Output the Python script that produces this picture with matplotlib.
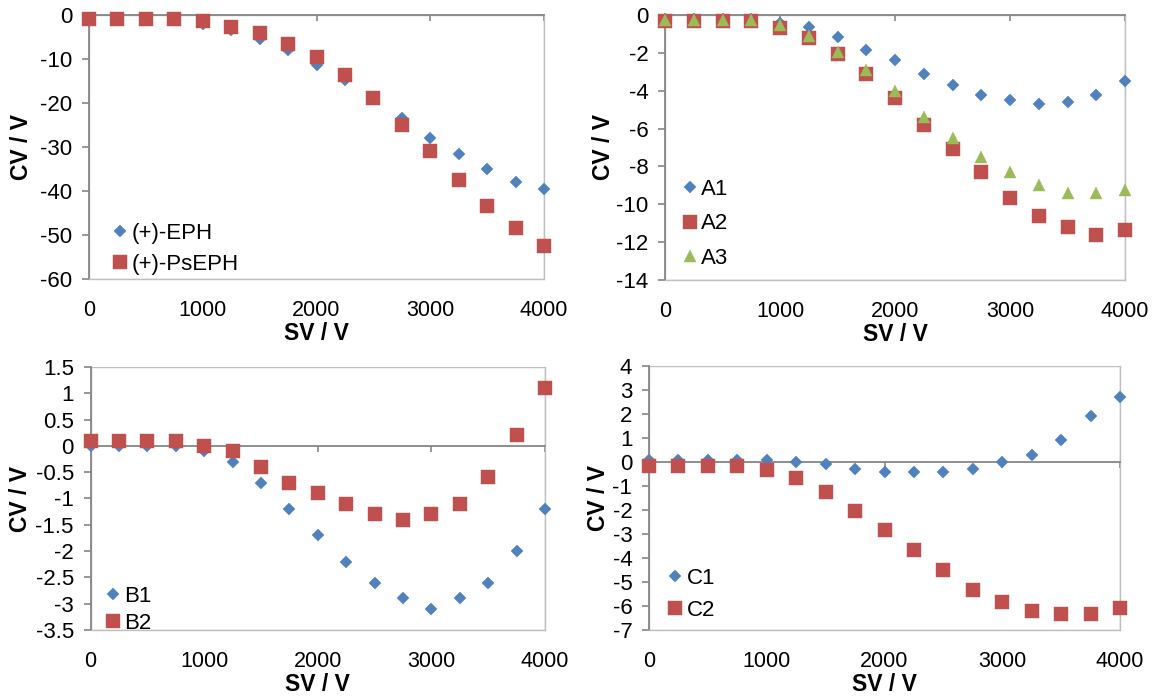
import matplotlib
matplotlib.use("Agg")
import matplotlib.pyplot as plt
from matplotlib.patches import Rectangle
from matplotlib.ticker import FuncFormatter, MultipleLocator

plt.rcParams["font.family"] = ["Liberation Sans", "DejaVu Sans"]
plt.rcParams["axes.unicode_minus"] = False

# Separation voltage (V)
sv = [0, 250, 500, 750, 1000, 1250, 1500, 1750, 2000,
      2250, 2500, 2750, 3000, 3250, 3500, 3750, 4000]

# Compensation voltage (V) per compound
eph = [-0.6, -0.6, -0.6, -0.6, -2.0, -3.3, -5.4, -7.9, -11.4,
       -14.8, -19.0, -23.5, -28.0, -31.6, -35.0, -38.0, -39.5]
pseph = [-0.9, -0.9, -0.9, -0.9, -1.4, -2.8, -4.2, -6.5, -9.6,
         -13.6, -18.8, -25.0, -31.0, -37.4, -43.3, -48.5, -52.6]

a1 = [-0.2, -0.2, -0.2, -0.2, -0.4, -0.65, -1.15, -1.85, -2.4,
      -3.1, -3.7, -4.2, -4.5, -4.7, -4.6, -4.2, -3.5]
a2 = [-0.3, -0.3, -0.3, -0.3, -0.7, -1.2, -2.05, -3.1, -4.4,
      -5.8, -7.1, -8.3, -9.65, -10.6, -11.2, -11.6, -11.35]
a3 = [-0.25, -0.25, -0.25, -0.25, -0.55, -1.1, -1.95, -2.9, -4.0,
      -5.4, -6.5, -7.5, -8.3, -9.0, -9.4, -9.4, -9.25]

b1 = [0.0, 0.0, 0.0, 0.0, -0.1, -0.3, -0.7, -1.2, -1.7,
      -2.2, -2.6, -2.9, -3.1, -2.9, -2.6, -2.0, -1.2]
b2 = [0.1, 0.1, 0.1, 0.1, 0.0, -0.1, -0.4, -0.7, -0.9,
      -1.1, -1.3, -1.4, -1.3, -1.1, -0.6, 0.2, 1.1]

c1 = [0.1, 0.1, 0.1, 0.1, 0.1, 0.0, -0.1, -0.3, -0.4,
      -0.4, -0.4, -0.3, 0.0, 0.3, 0.9, 1.9, 2.7]
c2 = [-0.15, -0.15, -0.15, -0.15, -0.35, -0.65, -1.25, -2.05, -2.85,
      -3.65, -4.5, -5.35, -5.85, -6.2, -6.35, -6.35, -6.1]

BLUE = "#4F81BD"
RED = "#C0504D"
GREEN = "#9BBB59"
AXIS = "#868686"
BORDER = "#BFBFBF"

styles = {
    "D": dict(marker="D", ms=6.4, color=BLUE),
    "s": dict(marker="s", ms=9.4, color=RED),
    "^": dict(marker="^", ms=9.0, color=GREEN),
}

W, H = 1156, 696
fig = plt.figure(figsize=(W / 100, H / 100), dpi=100)
fig.patch.set_facecolor("white")


def px_axes(left, top, right, bottom):
    return fig.add_axes([left / W, 1 - bottom / H, (right - left) / W, (bottom - top) / H])


panels = [
    dict(box=(89, 15, 544, 279), ylim=(-60, 0), step=10,
         series=[(eph, "D", "(+)-EPH"), (pseph, "s", "(+)-PsEPH")],
         ylab_x=-0.1235, leg=(0.0519, 0.2125), lspace=0.45),
    dict(box=(665, 15, 1125, 280), ylim=(-14, 0), step=2,
         series=[(a1, "D", "A1"), (a2, "s", "A2"), (a3, "^", "A3")],
         ylab_x=-0.1096, leg=(0.0374, 0.3815), lspace=0.61),
    dict(box=(90.5, 367, 545, 630), ylim=(-3.5, 1.5), step=0.5,
         series=[(b1, "D", "B1"), (b2, "s", "B2")],
         ylab_x=-0.129, leg=(0.0323, 0.1677), lspace=0.27),
    dict(box=(649, 366, 1120, 630), ylim=(-7, 4), step=1,
         series=[(c1, "D", "C1"), (c2, "s", "C2")],
         ylab_x=-0.0828, leg=(0.0397, 0.2352), lspace=0.5),
]

for p in panels:
    ax = px_axes(*p["box"])
    for vals, mk, label in p["series"]:
        st = styles[mk]
        ax.plot(sv, vals, linestyle="none", marker=st["marker"], markersize=st["ms"],
                color=st["color"], markeredgecolor=st["color"], markeredgewidth=0.3,
                label=label, clip_on=False, zorder=3)

    ax.set_xlim(0, 4000)
    ax.set_ylim(*p["ylim"])
    ax.xaxis.set_major_locator(MultipleLocator(1000))
    ax.yaxis.set_major_locator(MultipleLocator(p["step"]))
    ax.yaxis.set_major_formatter(FuncFormatter(lambda v, _: f"{v:g}"))

    # plot-area frame
    for side in ("bottom", "right"):
        ax.spines[side].set_color(BORDER)
        ax.spines[side].set_linewidth(1.0)
    ax.add_patch(Rectangle((0, 0), 1, 1, transform=ax.transAxes, fill=False,
                           edgecolor=BORDER, linewidth=1.0, zorder=0.5))
    ax.spines["left"].set_color(AXIS)
    ax.spines["left"].set_linewidth(1.3)
    # horizontal axis crosses at CV = 0
    ax.spines["top"].set_position(("data", 0))
    ax.spines["top"].set_color(AXIS)
    ax.spines["top"].set_linewidth(1.3)

    ax.tick_params(axis="x", top=True, bottom=False, labeltop=False, labelbottom=True,
                   direction="in", length=4.5, width=1.2, color=AXIS,
                   labelsize=15.5, pad=15, labelcolor="black")
    ax.tick_params(axis="y", left=True, right=False, direction="out",
                   length=5, width=1.2, color=AXIS, labelsize=16, pad=7,
                   labelcolor="black")

    ax.set_xlabel("SV / V", fontsize=16.5, fontweight="bold", labelpad=1)
    ax.set_ylabel("CV / V", fontsize=16.5, fontweight="bold")
    ax.yaxis.set_label_coords(p["ylab_x"], 0.5)

    ax.legend(loc="upper left", bbox_to_anchor=p["leg"], frameon=False,
              fontsize=16, handlelength=0.7, handletextpad=0.15, borderpad=0,
              borderaxespad=0, labelspacing=p["lspace"], markerscale=1.0)

fig.savefig("out.png", dpi=100, facecolor="white")
